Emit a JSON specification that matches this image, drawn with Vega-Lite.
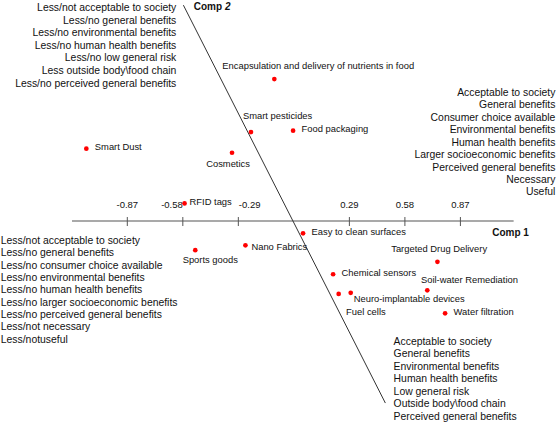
{
  "$schema": "https://vega.github.io/schema/vega-lite/v6.json",
  "width": 559,
  "height": 422,
  "autosize": {"type": "fit", "contains": "padding"},
  "padding": 0,
  "background": "white",
  "config": {"view": {"stroke": null}, "text": {"font": "Liberation Sans", "color": "#111111"}},
  "datasets": {
    "techs": [
      {"name": "Encapsulation and delivery of nutrients in food", "comp1": -0.102, "comp2": 0.742},
      {"name": "Smart pesticides", "comp1": -0.224, "comp2": 0.465},
      {"name": "Food packaging", "comp1": -0.004, "comp2": 0.472},
      {"name": "Cosmetics", "comp1": -0.323, "comp2": 0.357},
      {"name": "Smart Dust", "comp1": -1.084, "comp2": 0.378},
      {"name": "RFID tags", "comp1": -0.571, "comp2": 0.092},
      {"name": "Sports goods", "comp1": -0.515, "comp2": -0.152},
      {"name": "Nano Fabrics", "comp1": -0.253, "comp2": -0.127},
      {"name": "Easy to clean surfaces", "comp1": 0.048, "comp2": -0.064},
      {"name": "Targeted Drug Delivery", "comp1": 0.750, "comp2": -0.213},
      {"name": "Chemical sensors", "comp1": 0.205, "comp2": -0.278},
      {"name": "Soil-water Remediation", "comp1": 0.697, "comp2": -0.362},
      {"name": "Neuro-implantable devices", "comp1": 0.297, "comp2": -0.375},
      {"name": "Fuel cells", "comp1": 0.234, "comp2": -0.381},
      {"name": "Water filtration", "comp1": 0.790, "comp2": -0.482}
    ],
    "ticks": [
      {"t": -0.87, "label": "-0.87"},
      {"t": -0.58, "label": "-0.58"},
      {"t": -0.29, "label": "-0.29"},
      {"t": 0.29, "label": "0.29"},
      {"t": 0.58, "label": "0.58"},
      {"t": 0.87, "label": "0.87"}
    ]
  },
  "data": {"name": "techs"},
  "layer": [
    {
      "data": {"values": [{}]},
      "mark": {"type": "rule", "color": "#8c8c8c", "strokeWidth": 1.6},
      "encoding": {
        "x": {"datum": -1.159, "type": "quantitative", "axis": null, "scale": {"domain": [-1.535, 1.385], "nice": false, "zero": false}},
        "x2": {"datum": 1.148},
        "y": {"datum": 0, "type": "quantitative", "axis": null, "scale": {"domain": [-1.05, 1.155], "nice": false, "zero": false}}
      }
    },
    {
      "data": {"name": "ticks"},
      "mark": {"type": "rule", "color": "#555555", "strokeWidth": 1},
      "encoding": {
        "x": {"field": "t", "type": "quantitative"},
        "y": {"datum": 0.021, "type": "quantitative"},
        "y2": {"datum": -0.026}
      }
    },
    {
      "data": {"name": "ticks"},
      "transform": [{"filter": {"not": {"field": "t", "oneOf": [-0.58, -0.29]}}}],
      "mark": {"type": "text", "fontSize": 9.5, "align": "center", "baseline": "alphabetic", "dy": -13},
      "encoding": {
        "x": {"field": "t", "type": "quantitative"},
        "y": {"datum": 0, "type": "quantitative"},
        "text": {"field": "label"}
      }
    },
    {
      "data": {"name": "ticks"},
      "transform": [{"filter": {"field": "t", "equal": -0.58}}],
      "mark": {"type": "text", "fontSize": 9.5, "align": "right", "baseline": "alphabetic", "dy": -13, "dx": 0},
      "encoding": {
        "x": {"field": "t", "type": "quantitative"},
        "y": {"datum": 0, "type": "quantitative"},
        "text": {"field": "label"}
      }
    },
    {
      "data": {"name": "ticks"},
      "transform": [{"filter": {"field": "t", "equal": -0.29}}],
      "mark": {"type": "text", "fontSize": 9.5, "align": "left", "baseline": "alphabetic", "dy": -13, "dx": 0.5},
      "encoding": {
        "x": {"field": "t", "type": "quantitative"},
        "y": {"datum": 0, "type": "quantitative"},
        "text": {"field": "label"}
      }
    },
    {
      "data": {"values": [{}]},
      "mark": {"type": "rule", "color": "#333333", "strokeWidth": 1},
      "encoding": {
        "x": {"datum": -0.577, "type": "quantitative"},
        "y": {"datum": 1.128, "type": "quantitative"},
        "x2": {"datum": 0.478},
        "y2": {"datum": -0.951}
      }
    },
    {
      "mark": {"type": "point", "filled": true, "color": "#ff0000", "opacity": 1, "size": 22},
      "encoding": {
        "x": {"field": "comp1", "type": "quantitative"},
        "y": {"field": "comp2", "type": "quantitative"}
      }
    },
    {
      "transform": [{"filter": {"field": "name", "oneOf": ["Food packaging", "Smart Dust", "Easy to clean surfaces", "Chemical sensors", "Water filtration"]}}],
      "mark": {"type": "text", "fontSize": 9.4, "align": "left", "baseline": "middle", "dx": 8.5, "dy": -1.5},
      "encoding": {"x": {"field": "comp1", "type": "quantitative"}, "y": {"field": "comp2", "type": "quantitative"}, "text": {"field": "name"}}
    },
    {
      "transform": [{"filter": {"field": "name", "equal": "RFID tags"}}],
      "mark": {"type": "text", "fontSize": 9.4, "align": "left", "baseline": "middle", "dx": 5, "dy": -1.5},
      "encoding": {"x": {"field": "comp1", "type": "quantitative"}, "y": {"field": "comp2", "type": "quantitative"}, "text": {"field": "name"}}
    },
    {
      "transform": [{"filter": {"field": "name", "equal": "Nano Fabrics"}}],
      "mark": {"type": "text", "fontSize": 9.4, "align": "left", "baseline": "middle", "dx": 6, "dy": 1.5},
      "encoding": {"x": {"field": "comp1", "type": "quantitative"}, "y": {"field": "comp2", "type": "quantitative"}, "text": {"field": "name"}}
    },
    {
      "transform": [{"filter": {"field": "name", "equal": "Encapsulation and delivery of nutrients in food"}}],
      "mark": {"type": "text", "fontSize": 9.4, "align": "left", "baseline": "middle", "dx": -52, "dy": -12.7},
      "encoding": {"x": {"field": "comp1", "type": "quantitative"}, "y": {"field": "comp2", "type": "quantitative"}, "text": {"field": "name"}}
    },
    {
      "transform": [{"filter": {"field": "name", "equal": "Smart pesticides"}}],
      "mark": {"type": "text", "fontSize": 9.4, "align": "left", "baseline": "middle", "dx": -8, "dy": -16.3},
      "encoding": {"x": {"field": "comp1", "type": "quantitative"}, "y": {"field": "comp2", "type": "quantitative"}, "text": {"field": "name"}}
    },
    {
      "transform": [{"filter": {"field": "name", "equal": "Cosmetics"}}],
      "mark": {"type": "text", "fontSize": 9.4, "align": "center", "baseline": "middle", "dx": -4, "dy": 11.6},
      "encoding": {"x": {"field": "comp1", "type": "quantitative"}, "y": {"field": "comp2", "type": "quantitative"}, "text": {"field": "name"}}
    },
    {
      "transform": [{"filter": {"field": "name", "equal": "Sports goods"}}],
      "mark": {"type": "text", "fontSize": 9.4, "align": "center", "baseline": "middle", "dx": 15, "dy": 10},
      "encoding": {"x": {"field": "comp1", "type": "quantitative"}, "y": {"field": "comp2", "type": "quantitative"}, "text": {"field": "name"}}
    },
    {
      "transform": [{"filter": {"field": "name", "equal": "Targeted Drug Delivery"}}],
      "mark": {"type": "text", "fontSize": 9.4, "align": "center", "baseline": "middle", "dx": 1.7, "dy": -13},
      "encoding": {"x": {"field": "comp1", "type": "quantitative"}, "y": {"field": "comp2", "type": "quantitative"}, "text": {"field": "name"}}
    },
    {
      "transform": [{"filter": {"field": "name", "equal": "Soil-water Remediation"}}],
      "mark": {"type": "text", "fontSize": 9.4, "align": "left", "baseline": "middle", "dx": -6.3, "dy": -10.3},
      "encoding": {"x": {"field": "comp1", "type": "quantitative"}, "y": {"field": "comp2", "type": "quantitative"}, "text": {"field": "name"}}
    },
    {
      "transform": [{"filter": {"field": "name", "equal": "Neuro-implantable devices"}}],
      "mark": {"type": "text", "fontSize": 9.4, "align": "left", "baseline": "middle", "dx": 3, "dy": 6.6},
      "encoding": {"x": {"field": "comp1", "type": "quantitative"}, "y": {"field": "comp2", "type": "quantitative"}, "text": {"field": "name"}}
    },
    {
      "transform": [{"filter": {"field": "name", "equal": "Fuel cells"}}],
      "mark": {"type": "text", "fontSize": 9.4, "align": "left", "baseline": "middle", "dx": 7.4, "dy": 17.7},
      "encoding": {"x": {"field": "comp1", "type": "quantitative"}, "y": {"field": "comp2", "type": "quantitative"}, "text": {"field": "name"}}
    },
    {
      "data": {"values": [{"lines": ["Less/not acceptable to society", "Less/no general benefits", "Less/no environmental benefits", "Less/no human health benefits", "Less/no low general risk", "Less outside body\\food chain", "Less/no perceived general benefits"]}]},
      "mark": {"type": "text", "fontSize": 10.4, "align": "right", "baseline": "alphabetic", "lineHeight": 12.6},
      "encoding": {"x": {"datum": -0.614, "type": "quantitative"}, "y": {"datum": 1.097, "type": "quantitative"}, "text": {"field": "lines"}}
    },
    {
      "data": {"values": [{"lines": ["Acceptable to society", "General benefits", "Consumer choice available", "Environmental benefits", "Human health benefits", "Larger socioeconomic benefits", "Perceived general benefits", "Necessary", "Useful"]}]},
      "mark": {"type": "text", "fontSize": 10.4, "align": "right", "baseline": "alphabetic", "lineHeight": 12.42},
      "encoding": {"x": {"datum": 1.366, "type": "quantitative"}, "y": {"datum": 0.653, "type": "quantitative"}, "text": {"field": "lines"}}
    },
    {
      "data": {"values": [{"lines": ["Less/not acceptable to society", "Less/no general benefits", "Less/no consumer choice available", "Less/no environmental benefits", "Less/no human health benefits", "Less/no larger socioeconomic benefits", "Less/no perceived general benefits", "Less/not necessary", "Less/notuseful"]}]},
      "mark": {"type": "text", "fontSize": 10.4, "align": "left", "baseline": "alphabetic", "lineHeight": 12.38},
      "encoding": {"x": {"datum": -1.531, "type": "quantitative"}, "y": {"datum": -0.119, "type": "quantitative"}, "text": {"field": "lines"}}
    },
    {
      "data": {"values": [{"lines": ["Acceptable to society", "General benefits", "Environmental benefits", "Human health benefits", "Low general risk", "Outside body\\food chain", "Perceived general benefits"]}]},
      "mark": {"type": "text", "fontSize": 10.4, "align": "left", "baseline": "alphabetic", "lineHeight": 12.45},
      "encoding": {"x": {"datum": 0.521, "type": "quantitative"}, "y": {"datum": -0.647, "type": "quantitative"}, "text": {"field": "lines"}}
    },
    {
      "data": {"values": [{"label": "Comp 1"}]},
      "mark": {"type": "text", "fontSize": 10, "fontWeight": "bold", "align": "left", "baseline": "alphabetic"},
      "encoding": {"x": {"datum": 1.036, "type": "quantitative"}, "y": {"datum": -0.078, "type": "quantitative"}, "text": {"field": "label"}}
    },
    {
      "data": {"values": [{"label": "Comp"}]},
      "mark": {"type": "text", "fontSize": 10, "fontWeight": "bold", "align": "left", "baseline": "alphabetic"},
      "encoding": {"x": {"datum": -0.523, "type": "quantitative"}, "y": {"datum": 1.103, "type": "quantitative"}, "text": {"field": "label"}}
    },
    {
      "data": {"values": [{"label": "2"}]},
      "mark": {"type": "text", "fontSize": 10, "fontWeight": "bold", "fontStyle": "italic", "align": "left", "baseline": "alphabetic", "dx": 31.2},
      "encoding": {"x": {"datum": -0.523, "type": "quantitative"}, "y": {"datum": 1.103, "type": "quantitative"}, "text": {"field": "label"}}
    }
  ]
}
